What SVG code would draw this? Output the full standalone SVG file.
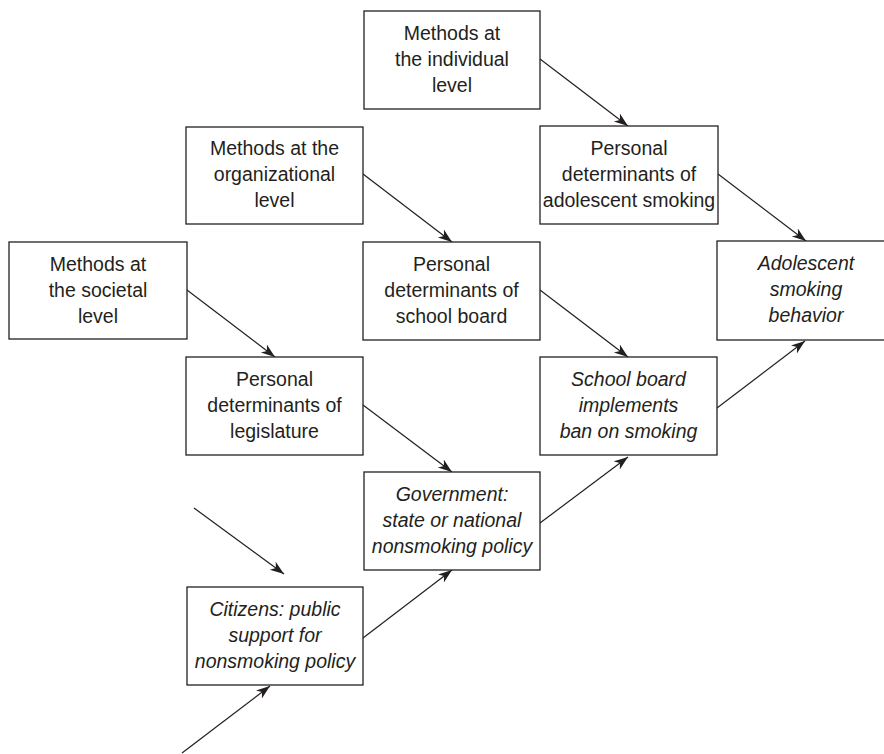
<svg xmlns="http://www.w3.org/2000/svg" width="884" height="754" viewBox="0 0 884 754">
  <style>
    .box { fill: #ffffff; stroke: #231f20; stroke-width: 1.3; }
    .lbl { font-family: "Liberation Sans", Arial, sans-serif; font-size: 19.5px; fill: #231f20; text-anchor: middle; }
    .it { font-style: italic; }
    .edge { stroke: #231f20; stroke-width: 1.2; fill: none; marker-end: url(#arrow); }
  </style>
  <defs>
    <marker id="arrow" markerUnits="userSpaceOnUse" markerWidth="16" markerHeight="12" refX="14" refY="5" orient="auto">
      <path d="M0,0 L14,5 L0,10 L4,5 Z" fill="#231f20"/>
    </marker>
  </defs>
  <rect width="884" height="754" fill="#ffffff"/>

  <!-- connectors -->
  <g id="connectors">
    <line class="edge" x1="540" y1="59" x2="628" y2="126"/>
    <line class="edge" x1="718" y1="174" x2="806" y2="241"/>
    <line class="edge" x1="363" y1="174" x2="452" y2="242"/>
    <line class="edge" x1="540" y1="290" x2="628" y2="357"/>
    <line class="edge" x1="187" y1="290" x2="275" y2="357"/>
    <line class="edge" x1="363" y1="405" x2="452" y2="472"/>
    <line class="edge" x1="717" y1="408" x2="805" y2="341"/>
    <line class="edge" x1="540" y1="523" x2="628" y2="457"/>
    <line class="edge" x1="363" y1="638" x2="452" y2="570"/>
    <line class="edge" x1="194" y1="508" x2="284" y2="574"/>
    <line class="edge" x1="182" y1="753" x2="270" y2="686"/>
  </g>

  <!-- nodes -->
  <g id="methods-individual">
    <rect class="box" x="364" y="11" width="176" height="98"/>
    <text class="lbl" x="452" y="40">Methods at</text>
    <text class="lbl" x="452" y="66">the individual</text>
    <text class="lbl" x="452" y="92">level</text>
  </g>

  <g id="personal-adolescent">
    <rect class="box" x="540" y="126" width="178" height="98"/>
    <text class="lbl" x="629" y="155">Personal</text>
    <text class="lbl" x="629" y="181">determinants of</text>
    <text class="lbl" x="629" y="207">adolescent smoking</text>
  </g>

  <g id="adolescent-behavior">
    <rect class="box" x="717" y="241" width="178" height="99"/>
    <text class="lbl it" x="806" y="270">Adolescent</text>
    <text class="lbl it" x="806" y="296">smoking</text>
    <text class="lbl it" x="806" y="322">behavior</text>
  </g>

  <g id="methods-organizational">
    <rect class="box" x="186" y="127" width="177" height="97"/>
    <text class="lbl" x="274.5" y="155">Methods at the</text>
    <text class="lbl" x="274.5" y="181">organizational</text>
    <text class="lbl" x="274.5" y="207">level</text>
  </g>

  <g id="personal-school-board">
    <rect class="box" x="363" y="242" width="177" height="98"/>
    <text class="lbl" x="451.5" y="271">Personal</text>
    <text class="lbl" x="451.5" y="297">determinants of</text>
    <text class="lbl" x="451.5" y="323">school board</text>
  </g>

  <g id="methods-societal">
    <rect class="box" x="9" y="242" width="178" height="97"/>
    <text class="lbl" x="98" y="271">Methods at</text>
    <text class="lbl" x="98" y="297">the societal</text>
    <text class="lbl" x="98" y="323">level</text>
  </g>

  <g id="personal-legislature">
    <rect class="box" x="186" y="357" width="177" height="98"/>
    <text class="lbl" x="274.5" y="386">Personal</text>
    <text class="lbl" x="274.5" y="412">determinants of</text>
    <text class="lbl" x="274.5" y="438">legislature</text>
  </g>

  <g id="school-board-ban">
    <rect class="box" x="540" y="357" width="177" height="98"/>
    <text class="lbl it" x="628.5" y="386">School board</text>
    <text class="lbl it" x="628.5" y="412">implements</text>
    <text class="lbl it" x="628.5" y="438">ban on smoking</text>
  </g>

  <g id="government-policy">
    <rect class="box" x="364" y="472" width="176" height="98"/>
    <text class="lbl it" x="452" y="501">Government:</text>
    <text class="lbl it" x="452" y="527">state or national</text>
    <text class="lbl it" x="452" y="553">nonsmoking policy</text>
  </g>

  <g id="citizens-support">
    <rect class="box" x="187" y="587" width="176" height="98"/>
    <text class="lbl it" x="275" y="616">Citizens: public</text>
    <text class="lbl it" x="275" y="642">support for</text>
    <text class="lbl it" x="275" y="668">nonsmoking policy</text>
  </g>
</svg>
